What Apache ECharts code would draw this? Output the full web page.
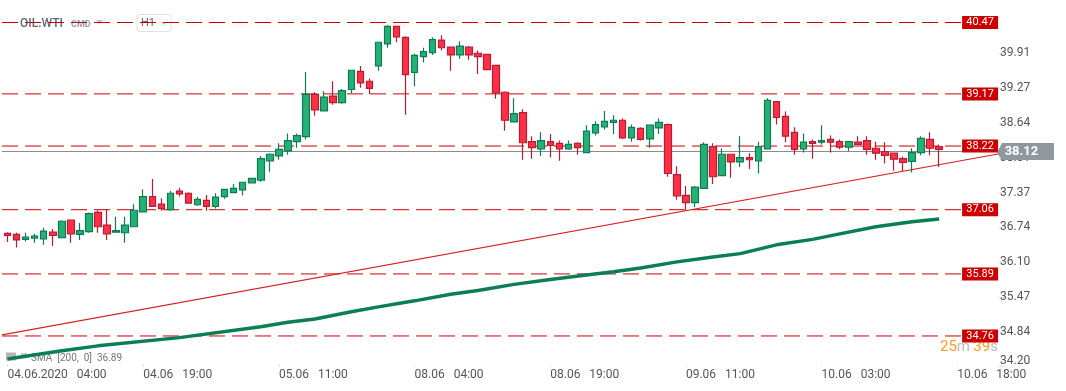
<!DOCTYPE html>
<html>
<head>
<meta charset="utf-8">
<style>html,body{margin:0;padding:0;background:#fff}#chart{width:1066px;height:391px}</style>
<script src="https://cdn.jsdelivr.net/npm/echarts@6/dist/echarts.min.js"></script>
</head>
<body>
<div id="chart"></div>
<script>
// hourly candles
const opens = [
  36.63,36.61,36.52,36.54,36.53,36.65,36.55,36.87,36.61,36.66,
  37.01,36.78,36.65,36.64,36.75,37.02,37.30,37.16,37.06,37.40,
  37.36,37.15,37.23,37.12,37.30,37.37,37.42,37.55,37.60,37.95,
  38.04,38.13,38.30,38.39,39.16,38.86,39.13,39.01,39.25,39.58,
  39.40,39.68,40.08,40.40,40.20,39.56,39.85,39.92,40.15,40.02,
  39.88,40.02,39.91,39.89,39.69,39.20,38.66,38.83,38.30,38.17,
  38.30,38.27,38.17,38.27,38.10,38.46,38.57,38.65,38.69,38.37,
  38.54,38.35,38.55,38.61,37.70,37.32,37.19,37.45,38.21,37.68,
  38.07,37.93,38.01,37.95,38.17,39.03,38.76,38.47,38.17,38.30,
  38.29,38.34,38.30,38.20,38.29,38.32,38.18,38.12,38.09,37.99,37.94,38.10,38.34,38.21
]
const closes = [
  36.59,36.51,36.56,36.58,36.67,36.59,36.85,36.62,36.68,36.99,
  36.75,36.62,36.68,36.78,37.05,37.30,37.12,37.08,37.36,37.35,
  37.18,37.25,37.12,37.29,37.43,37.45,37.56,37.63,37.99,38.07,
  38.16,38.32,38.41,39.16,38.88,39.11,39.01,39.23,39.60,39.37,
  39.27,40.11,40.40,40.21,39.52,39.87,39.94,40.16,40.01,39.88,
  40.04,39.88,39.85,39.61,39.19,38.69,38.81,38.28,38.19,38.32,
  38.23,38.17,38.25,38.19,38.49,38.61,38.67,38.69,38.37,38.56,
  38.34,38.60,38.65,37.72,37.31,37.19,37.47,38.25,37.66,38.07,
  37.93,38.01,37.97,38.21,39.05,38.74,38.40,38.16,38.29,38.27,
  38.32,38.29,38.20,38.30,38.25,38.16,38.09,38.05,37.98,37.92,38.10,38.36,38.18,38.16
]
const lows = [
  36.47,36.37,36.48,36.46,36.42,36.40,36.55,36.46,36.51,36.64,
  36.64,36.51,36.65,36.46,36.75,37.02,37.12,37.04,37.04,37.30,
  37.18,37.13,37.04,37.08,37.26,37.37,37.32,37.55,37.57,37.75,
  37.97,38.06,38.19,38.34,38.77,38.86,38.97,38.99,39.18,39.28,
  39.17,39.59,40.01,40.11,38.79,39.31,39.74,39.88,39.96,39.59,
  39.81,39.79,39.53,39.61,39.08,38.50,38.66,37.97,37.99,38.04,
  38.01,37.95,38.15,38.06,38.10,38.41,38.52,38.44,38.35,38.30,
  38.32,38.19,38.44,37.66,37.24,37.06,37.11,37.45,37.53,37.68,
  37.64,37.84,37.80,37.72,38.17,38.61,38.29,38.06,38.10,37.99,
  38.25,38.10,38.16,38.13,38.25,38.06,37.97,37.90,37.77,37.76,37.74,38.05,38.05,37.84
]
const highs = [
  36.65,36.64,36.64,36.62,36.73,36.71,36.87,36.87,36.82,37.01,
  37.05,37.07,36.93,36.93,37.16,37.43,37.62,37.27,37.40,37.46,
  37.38,37.29,37.33,37.36,37.43,37.53,37.56,37.63,38.04,38.09,
  38.27,38.45,38.45,39.57,39.20,39.22,39.40,39.26,39.60,39.68,
  39.45,40.11,40.42,40.40,40.22,39.90,40.01,40.20,40.24,40.02,
  40.13,40.04,39.96,39.89,39.69,39.22,39.09,38.89,38.40,38.47,
  38.44,38.32,38.32,38.29,38.60,38.67,38.86,38.78,38.72,38.61,
  38.56,38.60,38.72,38.63,37.85,37.49,37.49,38.29,38.27,38.18,
  38.07,38.40,38.09,38.30,39.09,39.03,38.85,38.56,38.45,38.34,
  38.60,38.41,38.34,38.30,38.40,38.40,38.30,38.29,38.09,38.03,38.18,38.40,38.47,38.25
]

// SMA 200, sampled along the green line
const smaIndex = [0,6,10,19,28,31,34,38,41,45,49,52,56,60,64,67,70,74,78,81,85,89,92,96,100,103]
const smaValues = [34.34,34.49,34.58,34.73,34.93,35.01,35.07,35.20,35.29,35.40,35.52,35.59,35.70,35.79,35.87,35.93,36.00,36.11,36.20,36.26,36.42,36.52,36.62,36.75,36.84,36.89]

const levels = [40.47,39.17,38.22,37.06,35.89,34.76]
const trendValues = [34.78,38.075]
const lastPrice = 38.12
const yTicks = [34.20,34.84,35.47,36.10,36.74,37.37,38.01,38.64,39.27,39.91]
const xTickLabels = ['04.06.2020\u00a0\u00a0\u00a004:00','04.06\u00a0\u00a0\u00a019:00','05.06\u00a0\u00a0\u00a011:00','08.06\u00a0\u00a0\u00a004:00','08.06\u00a0\u00a0\u00a019:00','09.06\u00a0\u00a0\u00a011:00','10.06\u00a0\u00a0\u00a003:00','10.06\u00a0\u00a0\u00a018:00']

const categories = []
for (let i = 0; i < 110; i++) categories.push(i % 15 === 0 ? (xTickLabels[i / 15] || '') : '')

const FONT = 'Roboto'
const chart = echarts.init(document.getElementById('chart'))

const levelLines = levels.map(v => ({
  type: 'line', xAxisIndex: 1, yAxisIndex: 0, z: 3, symbol: 'none', silent: true, clip: false,
  lineStyle: {color: '#cc0000', width: 1, type: [16, 7]},
  data: [[-0.001, v], [0.964, v]]
}))

chart.setOption({
  animation: false,
  textStyle: {fontFamily: FONT},
  grid: {left: 3, right: 68, top: 0, bottom: 24, containLabel: false},
  xAxis: [{
    type: 'category', data: categories,
    axisLine: {show: false, onZero: false},
    axisTick: {show: true, interval: 14, alignWithLabel: true, inside: true, length: 3, lineStyle: {color: '#e6e6e6'}},
    axisLabel: {interval: 14, align: 'left', margin: 2, fontSize: 12, color: '#555', fontFamily: FONT},
    splitLine: {show: false}
  }, {
    type: 'value', min: 0, max: 1, show: false
  }],
  yAxis: {
    type: 'value', position: 'right', min: 34.195, max: 40.88, scale: true,
    axisLine: {show: false, onZero: false},
    axisTick: {show: true, length: 6, customValues: yTicks, lineStyle: {color: '#e6e6e6'}},
    axisLabel: {customValues: yTicks, margin: 2, fontSize: 12, color: '#555', fontFamily: FONT,
      verticalAlignMinLabel: 'bottom', formatter: v => v.toFixed(2)},
    splitLine: {show: false}
  },
  series: [
    ...levelLines,
    {
      type: 'line', xAxisIndex: 1, z: 3, symbol: 'none', silent: true, clip: false,
      lineStyle: {color: '#8c8c8c', width: 1},
      data: [[-0.001, lastPrice], [1, lastPrice]]
    },
    {
      type: 'line', xAxisIndex: 1, z: 3, symbol: 'none', silent: true, clip: false,
      lineStyle: {color: '#d91f1f', width: 1.2},
      data: [[-0.001, trendValues[0]], [1, trendValues[1]]]
    },
    {
      type: 'line', z: 4, symbol: 'none', silent: true,
      lineStyle: {color: '#0a7f55', width: 3.5},
      data: smaIndex.map((x, i) => [x, smaValues[i]])
    },
    {
      type: 'candlestick', z: 5, barWidth: 7,
      itemStyle: {color: '#24b274', borderColor: '#0f7a55', color0: '#ff3045', borderColor0: '#b51c35', borderWidth: 1.2},
      data: opens.map((o, i) => [o, closes[i], lows[i], highs[i]])
    },
    {
      // red price tags at the end of the level lines
      type: 'scatter', xAxisIndex: 1, z: 6, silent: true, clip: false,
      symbol: 'rect', symbolSize: [36, 13],
      itemStyle: {color: '#cc0000', opacity: 1},
      label: {show: true, position: 'inside', color: '#fff', fontSize: 11, fontFamily: FONT, formatter: p => p.value[1].toFixed(2)},
      data: levels.map(v => [0.982, v])
    },
    {
      // last price tag
      type: 'scatter', xAxisIndex: 1, z: 7, silent: true, clip: false,
      symbol: 'path://M0 10L5 0L57 0L57 17L5 17Z', symbolKeepAspect: false, symbolSize: [57, 17],
      itemStyle: {color: '#8f999d', opacity: 1},
      label: {show: true, position: 'inside', offset: [-4, 0], color: '#fff', fontSize: 13, fontWeight: 'bold', fontFamily: FONT, formatter: p => p.value[1].toFixed(2)},
      data: [[1.0276, lastPrice]]
    }
  ],
  graphic: [
    {type: 'text', z: 0, left: 20, top: 18, style: {text: 'OIL.WTI', font: '500 12px Roboto', fill: '#5f6a72'}},
    {type: 'text', z: 0, left: 71, top: 20, style: {text: 'CMD', font: 'bold 9px Roboto', fill: '#8fa3b0'}},
    {type: 'polygon', z: 0, shape: {points: [[96, 20], [103, 20], [99.5, 24]]}, style: {fill: '#c4c4c4'}},
    {type: 'rect', z: 0, shape: {x: 137, y: 14.5, width: 34, height: 17, r: 2}, style: {fill: '#fff', stroke: '#e2e2e2'}},
    {type: 'text', z: 0, left: 141, top: 18, style: {text: 'H1', font: '11px Roboto', fill: '#666'}},
    {type: 'polygon', z: 0, shape: {points: [[161, 22], [166, 22], [163.5, 25]]}, style: {fill: '#c4c4c4'}},
    {type: 'rect', z: 0, shape: {x: 6, y: 352.5, width: 10, height: 8}, style: {fill: '#b5b5b5'}},
    {type: 'text', z: 0, left: 20, top: 352, style: {text: '\u2716', font: '9px "DejaVu Sans"', fill: '#b5b5b5'}},
    {type: 'text', z: 0, left: 31, top: 353, style: {text: 'SMA\u00a0\u00a0[200,\u00a0\u00a00]\u00a0\u00a036.89', font: '10px Roboto', fill: '#777'}},
    {type: 'text', z: 0, left: 940, top: 340, style: {
      text: '{o|25}{g|m} {o|39}{g|s}',
      rich: {o: {fill: '#ff9a1f', font: '15px Roboto'}, g: {fill: '#bdbdbd', font: '15px Roboto'}}
    }}
  ]
})
</script>
</body>
</html>
